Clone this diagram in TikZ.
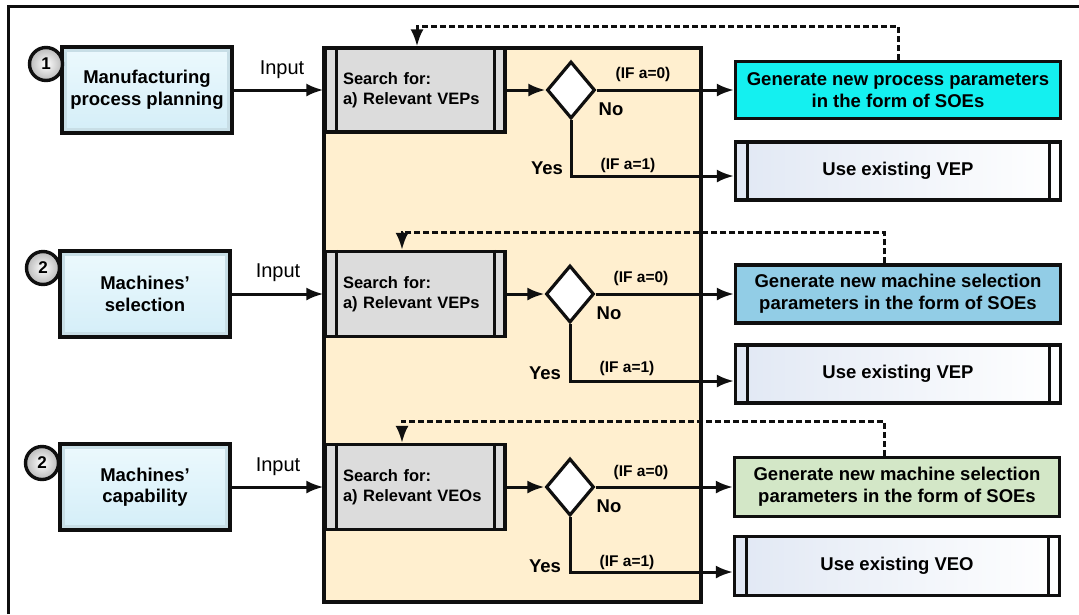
\documentclass[tikz,border=0pt]{standalone}
\usepackage{fontspec}
\setmainfont{Liberation Sans}
\usetikzlibrary{shapes.geometric,arrows.meta,calc}
\definecolor{tanfill}{RGB}{255,239,207}
\definecolor{searchgray}{RGB}{220,220,220}
\definecolor{genone}{RGB}{20,240,240}
\definecolor{gentwo}{RGB}{146,205,230}
\definecolor{genthree}{RGB}{211,231,199}
\definecolor{lbtop}{RGB}{236,249,253}
\definecolor{lbbot}{RGB}{212,238,248}
\definecolor{bevel}{RGB}{200,222,230}
\definecolor{useleft}{RGB}{225,232,244}
\definecolor{ballout}{RGB}{185,185,185}
\definecolor{edge}{RGB}{15,15,15}
\begin{document}
\begin{tikzpicture}[x=1pt,y=-1pt,
  arr/.style={line width=3pt,draw=edge,-{Latex[length=17pt,width=13pt]}},
  fb/.style={arr,dash pattern=on 6pt off 3pt},
  leftbox/.style={draw=edge,line width=3.2pt,minimum width=170pt,minimum height=86pt,
    top color=lbtop,bottom color=lbbot,align=center,inner sep=0pt,
    font=\bfseries\fontsize{18.5}{21.5}\selectfont},
  numball/.style={circle,draw=edge,line width=3.4pt,inner color=white,outer color=ballout,
    minimum size=33pt,inner sep=0pt,font=\bfseries\fontsize{17}{17}\selectfont},
  sbox/.style={draw=edge,line width=3.2pt,fill=searchgray,minimum width=180pt,
    text width=144pt,inner xsep=18pt,inner ysep=0pt,align=left,
    font=\bfseries\fontsize{16.5}{19.5}\selectfont},
  dia/.style={diamond,draw=edge,line width=3.2pt,fill=white,minimum width=48pt,
    minimum height=57pt,inner sep=0pt},
  gbox/.style={draw=edge,line width=3.2pt,minimum width=325pt,inner sep=0pt,align=center,
    font=\bfseries\fontsize{18.5}{22}\selectfont},
  ubox/.style={draw=edge,line width=3.2pt,minimum width=325pt,inner sep=0pt,
    left color=useleft,right color=white,font=\bfseries\fontsize{18.5}{22}\selectfont},
  bar/.style={draw=edge,line width=3pt},
  inlab/.style={font=\fontsize{20}{20}\selectfont,inner sep=0pt},
  iflab/.style={font=\bfseries\fontsize{15.5}{15.5}\selectfont,inner sep=0pt},
  ynlab/.style={font=\bfseries\fontsize{18.5}{18.5}\selectfont,inner sep=0pt}
]
\useasboundingbox (0,0) rectangle (1079,614);
\fill[white] (0,0) rectangle (1079,614);
% outer frame
\draw[line width=3pt,edge] (8,614) -- (8,6) -- (1079,6);

% central tan area
\node[draw=edge,line width=3.2pt,fill=tanfill,minimum width=377pt,minimum height=554pt,inner sep=0pt] (tan) at (512.5,325) {};

% left boxes
\node[leftbox] (l1) at (147,90) {Manufacturing\\process planning};
\node[leftbox] (l2) at (145,294) {Machines’\\selection};
\node[leftbox] (l3) at (145,487) {Machines’\\capability};
\foreach \n in {l1,l2,l3}{
  \draw[bevel,line width=3pt] ([xshift=5pt,yshift=-5pt]\n.north west) rectangle ([xshift=-5pt,yshift=5pt]\n.south east);
}
\node[numball] (c1) at (46,64) {1};
\node[numball] (c2) at (43,268) {2};
\node[numball] (c3) at (42,463) {2};

% search boxes
\node[sbox,minimum height=84pt] (s1) at (415,90) {Search for:\\a) Relevant VEPs};
\node[sbox,minimum height=85pt] (s2) at (415,294) {Search for:\\a) Relevant VEPs};
\node[sbox,minimum height=85pt] (s3) at (415,487) {Search for:\\a) Relevant VEOs};
\foreach \n in {s1,s2,s3}{
  \draw[bar] ([xshift=13pt]\n.north west) -- ([xshift=13pt]\n.south west);
  \draw[bar] ([xshift=-12pt]\n.north east) -- ([xshift=-12pt]\n.south east);
}

% decisions
\node[dia] (d1) at (571,90) {};
\node[dia] (d2) at (570,294) {};
\node[dia] (d3) at (570,487) {};

% generate boxes
\node[gbox,fill=genone,minimum height=57pt] (g1) at (898,90) {Generate new process parameters\\in the form of SOEs};
\node[gbox,fill=gentwo,minimum height=58pt] (g2) at (898,294) {Generate new machine selection\\parameters in the form of SOEs};
\node[gbox,fill=genthree,minimum height=59pt] (g3) at (897,487) {Generate new machine selection\\parameters in the form of SOEs};

% use boxes
\node[ubox,minimum height=58pt] (u1) at (898,171) {Use existing VEP};
\node[ubox,minimum height=58pt] (u2) at (898,374) {Use existing VEP};
\node[ubox,minimum height=59pt] (u3) at (897,566) {Use existing VEO};
\foreach \n in {u1,u2,u3}{
  \draw[bar] ([xshift=14pt]\n.north west) -- ([xshift=14pt]\n.south west);
  \draw[bar] ([xshift=-13pt]\n.north east) -- ([xshift=-13pt]\n.south east);
}

% input arrows
\draw[arr] (l1.east) -- (s1.west);
\draw[arr] (l2.east) -- (s2.west);
\draw[arr] (l3.east) -- (s3.west);
\node[inlab] (i1) at (282,70) {Input};
\node[inlab] (i2) at (278,273) {Input};
\node[inlab] (i3) at (278,467) {Input};

% search -> decision
\draw[arr] (s1.east) -- (d1.west);
\draw[arr] (s2.east) -- (d2.west);
\draw[arr] (s3.east) -- (d3.west);

% decision -> generate / use
\draw[arr] (d1.east) -- (g1.west);
\draw[arr] (d2.east) -- (g2.west);
\draw[arr] (d3.east) -- (g3.west);
\draw[arr] (d1.south) |- ([yshift=-5pt]u1.west);
\draw[arr] (d2.south) |- ([yshift=-7pt]u2.west);
\draw[arr] (d3.south) |- ([yshift=-6pt]u3.west);

% labels
\node[iflab] (a01) at (643,74) {(IF a=0)};
\node[ynlab] (n1) at (611,109) {No};
\node[ynlab] (y1) at (547,168) {Yes};
\node[iflab] (a11) at (628,165) {(IF a=1)};
\node[iflab] (a02) at (641,278) {(IF a=0)};
\node[ynlab] (n2) at (609,313) {No};
\node[ynlab] (y2) at (545,373) {Yes};
\node[iflab] (a12) at (627,368) {(IF a=1)};
\node[iflab] (a03) at (641,472) {(IF a=0)};
\node[ynlab] (n3) at (609,506) {No};
\node[ynlab] (y3) at (545,566) {Yes};
\node[iflab] (a13) at (627,562) {(IF a=1)};

% feedback dashed lines
\coordinate (t1) at (417,26);
\coordinate (t2) at (402,232);
\coordinate (t3) at (402,421);
\draw[fb] (g1.north) |- (t1) -- ([xshift=2pt]s1.north);
\draw[fb] ([xshift=-14pt]g2.north) |- (t2) -- ([xshift=-13pt]s2.north);
\draw[fb] ([xshift=-13pt]g3.north) |- (t3) -- ([xshift=-13pt]s3.north);
\end{tikzpicture}
\end{document}
